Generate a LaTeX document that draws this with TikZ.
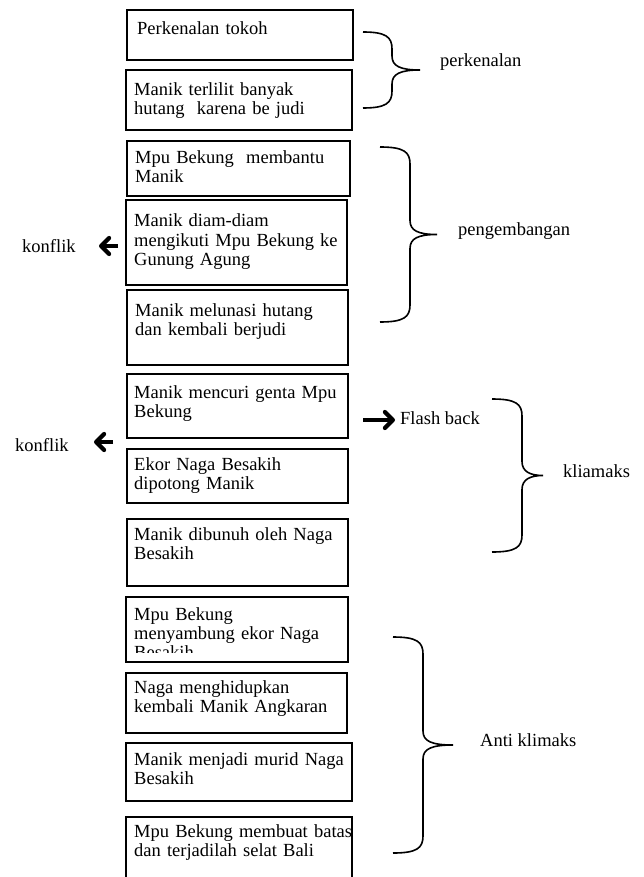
\documentclass[tikz,border=0pt]{standalone}
\usepackage{fontspec}
\setmainfont{Liberation Serif}
\usetikzlibrary{arrows.meta}
% brace: #1 x of ends, #2 x of spine, #3 x of tip, #4 y top, #5 y bottom
\newcommand\mybrc[5]{%
  \draw[bracestyle] (#1,#4) .. controls ({#2-6},#4) and (#2,{#4+5}) .. (#2,{#4+17})
    -- (#2,{(#4+#5)/2-14}) .. controls (#2,{(#4+#5)/2-4}) and ({#2+8},{(#4+#5)/2}) .. (#3,{(#4+#5)/2})
    .. controls ({#2+8},{(#4+#5)/2}) and (#2,{(#4+#5)/2+4}) .. (#2,{(#4+#5)/2+14})
    -- (#2,{#5-17}) .. controls (#2,{#5-5}) and ({#2-6},#5) .. (#1,#5);}
\begin{document}
\begin{tikzpicture}[x=1pt,y=-1pt,
  font=\fontsize{18.5}{19}\selectfont,
  box/.style={draw, line width=1.8pt, inner sep=0pt, outer sep=0pt, anchor=north west},
  txt/.style={anchor=base west, inner sep=0pt, align=left, text width=230pt},
  lbl/.style={anchor=base west, inner sep=0pt},
  bracestyle/.style={line width=1.6pt},
  barrow/.style={line width=3.2pt, -{Straight Barb[length=8pt,width=16pt,line width=4.2pt,round]}}]
\clip (0,0) rectangle (644,877);
\fill[white] (0,0) rectangle (644,877);

% boxes
\node[box, minimum width=226pt, minimum height=50pt] (b1) at (127,10) {};
\node[box, minimum width=226pt, minimum height=60pt] (b2) at (126,70) {};
\node[box, minimum width=223pt, minimum height=55pt] (b3) at (127,141) {};
\node[box, minimum width=221pt, minimum height=85pt] (b4) at (126,200) {};
\node[box, minimum width=221pt, minimum height=75pt] (b5) at (127,290) {};
\node[box, minimum width=221pt, minimum height=64pt] (b6) at (127,374) {};
\node[box, minimum width=221pt, minimum height=54pt] (b7) at (127,449) {};
\node[box, minimum width=221pt, minimum height=67pt] (b8) at (127,519) {};
\node[box, minimum width=222pt, minimum height=65pt] (b9) at (126,597) {};
\node[box, minimum width=221pt, minimum height=60pt] (b10) at (126,673) {};
\node[box, minimum width=226pt, minimum height=58pt] (b11) at (126,743) {};
\node[box, minimum width=226pt, minimum height=90pt] (b12) at (126,817) {};

% box texts
\node[txt] (t1) at (137,35) {Perkenalan tokoh};
\node[txt] (t2) at (134,96) {Manik terlilit banyak\\hutang\ \ karena be judi};
\node[txt] (t3) at (135,164) {Mpu Bekung\ \ membantu\\Manik};
\node[txt] (t4) at (134,227) {Manik diam-diam\\mengikuti Mpu Bekung ke\\Gunung Agung};
\node[txt] (t5) at (135,316) {Manik melunasi hutang\\dan kembali berjudi};
\node[txt] (t6) at (134,398) {Manik mencuri genta Mpu\\Bekung};
\node[txt] (t7) at (134,470) {Ekor Naga Besakih\\dipotong Manik};
\node[txt] (t8) at (134,540) {Manik dibunuh oleh Naga\\Besakih};
\begin{scope}
\clip (126,597) rectangle (348,652);
\node[txt] (t9) at (134,620) {Mpu Bekung\\menyambung ekor Naga\\Besakih};
\end{scope}
\node[txt] (t10) at (134,693) {Naga menghidupkan\\kembali Manik Angkaran};
\node[txt] (t11) at (134,765) {Manik menjadi murid Naga\\Besakih};
\node[txt] (t12) at (134,837) {Mpu Bekung membuat batas\\dan terjadilah selat Bali};

% braces
\mybrc{363}{392}{420}{32}{108}
\mybrc{380}{410}{437}{147}{322}
\mybrc{492}{522}{543}{399}{552}
\mybrc{393}{423}{453}{637}{853}

% labels
\node[lbl] (l1) at (440,67) {perkenalan};
\node[lbl] (l2) at (458,236) {pengembangan};
\node[lbl] (l3) at (563,477) {kliamaks};
\node[lbl] (l4) at (480,746) {Anti klimaks};
\node[lbl] (k1) at (22,252) {konflik};
\node[lbl] (k2) at (15,451) {konflik};
\node[lbl] (fb) at (400,424) {Flash back};

% arrows
\coordinate (k1s) at (118,246);
\coordinate (k1e) at (99,246);
\coordinate (k2s) at (113,442);
\coordinate (k2e) at (94,442);
\coordinate (fbs) at (363,420);
\coordinate (fbe) at (395,420);
\draw[barrow] (k1s) -- (k1e);
\draw[barrow] (k2s) -- (k2e);
\draw[barrow] (fbs) -- (fbe);
\end{tikzpicture}
\end{document}
